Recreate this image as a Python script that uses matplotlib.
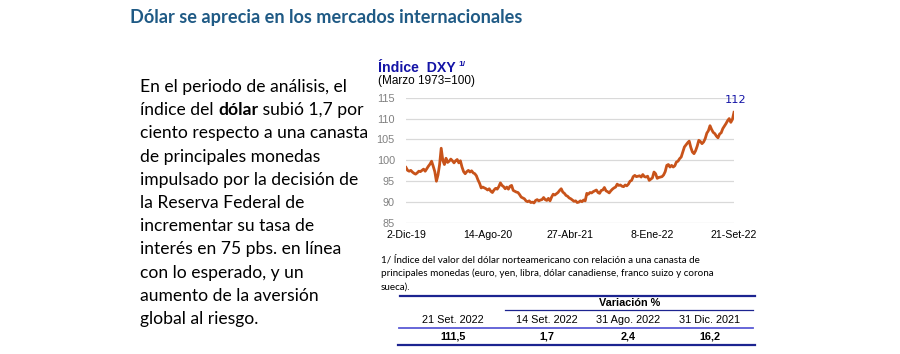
import matplotlib
matplotlib.use("Agg")
import matplotlib.pyplot as plt
import pandas as pd

# --- datos -------------------------------------------------------------
titulo = "Dólar se aprecia en los mercados internacionales"

texto = [
    "En el periodo de análisis, el",
    ("índice del ", "dólar", " subió 1,7 por"),
    "ciento respecto a una canasta",
    "de principales monedas",
    "impulsado por la decisión de",
    "la Reserva Federal de",
    "incrementar su tasa de",
    "interés en 75 pbs. en línea",
    "con lo esperado, y un",
    "aumento de la aversión",
    "global al riesgo.",
]

# indice DXY, aprox. cada 5 dias entre 2-Dic-19 y 21-Set-22
dxy = [
    98.3, 97.6, 97.4, 97.6, 97.2, 96.9,
    96.7, 97.0, 97.4, 97.3, 97.6, 97.9,
    97.4, 98.0, 98.6, 99.1, 99.8, 98.6,
    97.3, 95.0, 96.5, 99.0, 102.9, 100.0,
    99.0, 100.5, 99.5, 99.8, 100.3, 99.9,
    99.4, 99.9, 100.2, 99.4, 99.9, 98.4,
    97.3, 96.8, 97.3, 97.6, 97.2, 97.5,
    97.0, 96.8, 96.3, 95.3, 94.5, 93.4,
    93.6, 93.4, 93.2, 92.9, 93.2, 92.6,
    92.3, 92.9, 93.3, 93.1, 93.7, 94.6,
    94.0, 93.7, 93.2, 93.6, 93.1, 93.8,
    94.0, 92.8, 92.6, 92.4, 92.3, 91.8,
    91.2, 91.0, 90.8, 90.3, 90.1, 90.3,
    89.9, 90.0, 89.8, 90.4, 90.6, 90.3,
    90.5, 90.6, 91.1, 90.6, 90.4, 90.9,
    90.3, 91.2, 91.9, 91.7, 92.0, 92.3,
    92.8, 93.2, 92.4, 92.1, 91.6, 91.4,
    91.0, 90.8, 90.5, 90.2, 90.3, 89.9,
    90.0, 90.3, 90.1, 90.5, 90.3, 92.1,
    91.9, 92.3, 92.2, 92.5, 92.7, 92.9,
    92.3, 92.1, 92.8, 92.9, 93.5, 92.7,
    92.5, 92.2, 92.7, 93.1, 93.4, 93.6,
    94.3, 94.0, 94.1, 93.8, 93.7, 94.1,
    93.9, 94.3, 95.0, 95.2, 96.1, 96.4,
    96.1, 96.2, 96.3, 96.0, 96.6, 96.1,
    96.0, 96.2, 95.2, 95.5, 95.8, 97.2,
    96.8, 95.7, 95.9, 96.0, 96.1, 96.5,
    97.3, 98.8, 99.0, 98.4, 98.8, 98.4,
    98.7, 99.6, 99.8, 100.4, 100.8, 102.0,
    103.2, 103.7, 104.2, 104.6, 103.1, 102.0,
    101.6, 102.3, 103.4, 104.8, 104.5, 104.0,
    104.4, 105.2, 106.5, 107.1, 108.3, 107.4,
    106.7, 106.4, 105.8, 105.4, 106.3, 106.6,
    107.6, 108.2, 108.8, 109.5, 110.0, 109.1, 109.8, 111.5,
]
fecha_ini, fecha_fin = "2019-12-02", "2022-09-21"
ticks_fechas = ["2019-12-02", "2020-08-14", "2021-04-27", "2022-01-08", "2022-09-21"]
ticks_labels = ["2-Dic-19", "14-Ago-20", "27-Abr-21", "8-Ene-22", "21-Set-22"]
y_ticks = [85, 90, 95, 100, 105, 110, 115]
etiqueta_final = "112"

nota = [
    "1/ Índice del valor del dólar norteamericano con relación a una canasta de",
    "principales monedas (euro, yen, libra, dólar canadiense, franco suizo y corona",
    "sueca).",
]

tabla_cab = ["21 Set. 2022", "14 Set. 2022", "31 Ago. 2022", "31 Dic. 2021"]
tabla_val = ["111,5", "1,7", "2,4", "16,2"]

# --- estilo ------------------------------------------------------------
W, H = 900, 354
COLOR_LINEA = "#C8531A"
AZUL_TIT = "#1F5A85"
AZUL = "#1414A6"
AZUL_TABLA = "#1C2490"
FONT_TXT = "Lato"
FONT_GRAF = "Liberation Sans"

fig = plt.figure(figsize=(W / 100, H / 100), dpi=100)

# capa para textos en coordenadas de pixel
ov = fig.add_axes([0, 0, 1, 1])
ov.set_xlim(0, W)
ov.set_ylim(H, 0)
ov.axis("off")

ov.text(130, 17, titulo, fontsize=13.1, fontweight="bold", color=AZUL_TIT,
        family=FONT_TXT, va="center", ha="left")

# texto a la izquierda
renderer = fig.canvas.get_renderer()
y = 87
for linea in texto:
    if isinstance(linea, tuple):
        x = 140
        for k, parte in enumerate(linea):
            t = ov.text(x, y, parte, fontsize=12.6, family=FONT_TXT, va="center", ha="left",
                        fontweight="bold" if k == 1 else "normal", color="black")
            bb = t.get_window_extent(renderer)
            x += bb.width
    else:
        ov.text(140, y, linea, fontsize=12.6, family=FONT_TXT, va="center", ha="left")
    y += 23.2

# --- grafico -----------------------------------------------------------
ax = fig.add_axes([406 / W, 1 - 223 / H, 328 / W, (223 - 97.7) / H])
fechas = pd.date_range(fecha_ini, fecha_fin, periods=len(dxy))
ax.plot(fechas, dxy, color=COLOR_LINEA, lw=2.0, solid_joinstyle="round")
ax.set_ylim(85, 115)
ax.set_xlim(pd.Timestamp(fecha_ini), pd.Timestamp(fecha_fin))
ax.set_yticks(y_ticks)
ax.set_xticks(pd.to_datetime(ticks_fechas))
ax.set_xticklabels(ticks_labels)
ax.grid(axis="y", color="#D9D9D9", lw=0.9)
ax.set_axisbelow(True)
for s in ax.spines.values():
    s.set_visible(False)
ax.tick_params(length=0)
ax.tick_params(axis="y", labelsize=7.8, labelcolor="#808080", pad=8)
ax.tick_params(axis="x", labelsize=7.6, labelcolor="black", pad=5)
for lab in ax.get_xticklabels() + ax.get_yticklabels():
    lab.set_family(FONT_GRAF)
ax.patch.set_alpha(0)
ax.annotate(etiqueta_final, (fechas[-1], dxy[-1]), xytext=(1, 9), textcoords="offset points",
            ha="center", va="center", fontsize=8.2, color=AZUL, family="DejaVu Sans")

ov.text(378, 68, "Índice  DXY", fontsize=10.2, fontweight="bold", color=AZUL,
        family=FONT_GRAF, va="center", ha="left")
ov.text(458, 64, "1/", fontsize=6, fontweight="bold", color=AZUL,
        family=FONT_GRAF, va="center", ha="left")
ov.text(378, 81, "(Marzo 1973=100)", fontsize=8.5, color="black",
        family=FONT_GRAF, va="center", ha="left")

# nota
for i, l in enumerate(nota):
    ov.text(381, 259.5 + i * 13.6, l, fontsize=7.1, family=FONT_TXT, va="center", ha="left")

# tabla
ov.plot([400, 755], [296, 296], color=AZUL_TABLA, lw=1.6)
ov.text(630, 303.5, "Variación %", fontsize=7.8, fontweight="bold", family=FONT_GRAF,
        va="center", ha="center")
ov.plot([505, 753], [310, 310], color=AZUL_TABLA, lw=0.9)
cols_x = [453, 547, 628, 710]
for cx, c in zip(cols_x, tabla_cab):
    ov.text(cx, 320, c, fontsize=7.8, family=FONT_GRAF, va="center", ha="center")
ov.plot([399, 753], [328, 328], color="#5A5AD6", lw=1.3)
for cx, v in zip(cols_x, tabla_val):
    ov.text(cx, 336.5, v, fontsize=7.8, fontweight="bold", family=FONT_GRAF,
            va="center", ha="center")
ov.plot([398, 755], [345, 345], color=AZUL_TABLA, lw=1.6)

fig.savefig("out.png", dpi=100)
